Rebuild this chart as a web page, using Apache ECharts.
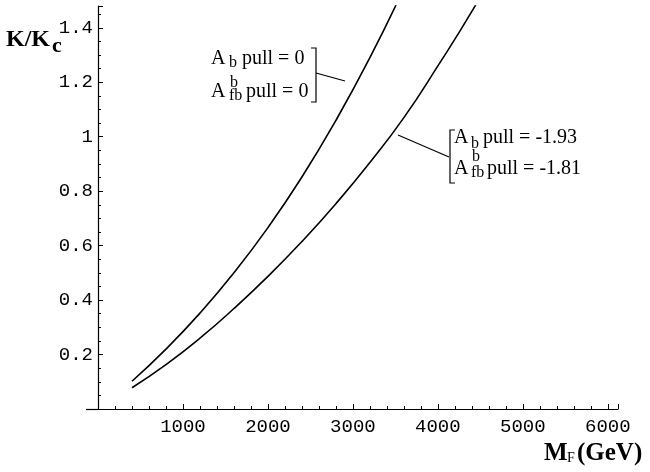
<!DOCTYPE html>
<html>
<head>
<meta charset="utf-8">
<script src="https://cdn.jsdelivr.net/npm/echarts@6/dist/echarts.min.js"></script>
<style>
  html, body { margin: 0; padding: 0; background: #fff; }
  #chart { width: 650px; height: 472px; }
</style>
</head>
<body>
<div id="chart"></div>
<script>
// values: M_F in GeV, K/Kc
const massUpper = [400, 800, 1200, 1600, 2000, 2400, 2800, 3200, 3600];
const ratioUpper = [0.102, 0.22, 0.352, 0.50, 0.666, 0.852, 1.06, 1.29, 1.545];

const massLower = [400, 800, 1200, 1600, 2000, 2400, 2800, 3200, 3600, 4000, 4400, 4800];
const ratioLower = [0.078, 0.163, 0.26, 0.369, 0.487, 0.615, 0.754, 0.905, 1.07, 1.26, 1.46, 1.68];

const xTicks = [1000, 2000, 3000, 4000, 5000, 6000];
const yTicks = [0.2, 0.4, 0.6, 0.8, 1, 1.2, 1.4];

const serif = '"Liberation Serif", "Times New Roman", serif';
const mono = '"Liberation Mono", "Courier New", monospace';

const zip = (xs, ys) => xs.map((x, i) => [x, ys[i]]);

// small helper for the stacked super/subscript labels
function txt(x, y, text, size, weight) {
  return {
    type: 'text', x: x, y: y, silent: true,
    style: {
      text: text, fill: '#000',
      font: (weight || 'normal') + ' ' + size + 'px ' + serif,
      align: 'left', verticalAlign: 'middle'
    }
  };
}
function seg(points) {
  return { type: 'polyline', silent: true, shape: { points: points },
    style: { stroke: '#000', lineWidth: 1.2, fill: null } };
}

const chart = echarts.init(document.getElementById('chart'));

const option = {
  animation: false,
  backgroundColor: '#fff',
  grid: { left: 98, right: 32, top: 6, bottom: 63, containLabel: false },
  xAxis: {
    type: 'value', min: 0, max: 6120, interval: 1000,
    axisLine: { show: true, onZero: false, lineStyle: { color: '#000', width: 1.2 } },
    axisTick: { show: true, inside: true, length: 5, lineStyle: { color: '#000' } },
    minorTick: { show: true, splitNumber: 5, length: 3, lineStyle: { color: '#000' } },
    splitLine: { show: false },
    axisLabel: {
      show: true, margin: 8, color: '#000', fontFamily: mono, fontSize: 19,
      showMinLabel: false, showMaxLabel: false,
      formatter: v => xTicks.includes(v) ? String(v) : ''
    }
  },
  yAxis: {
    type: 'value', min: 0, max: 1.48, interval: 0.2,
    axisLine: { show: true, onZero: false, lineStyle: { color: '#000', width: 1.2 } },
    axisTick: { show: true, inside: true, length: 5, lineStyle: { color: '#000' } },
    minorTick: { show: true, splitNumber: 4, length: 3, lineStyle: { color: '#000' } },
    splitLine: { show: false },
    axisLabel: {
      show: true, margin: 5, color: '#000', fontFamily: mono, fontSize: 19,
      showMinLabel: false, showMaxLabel: false,
      formatter: v => {
        const r = Math.round(v * 10) / 10;
        return yTicks.includes(r) ? String(r) : '';
      }
    }
  },
  series: [
    {
      name: 'pull 0', type: 'line', smooth: true, showSymbol: false,
      lineStyle: { color: '#000', width: 1.6 },
      data: zip(massUpper, ratioUpper)
    },
    {
      name: 'pull fit', type: 'line', smooth: true, showSymbol: false,
      lineStyle: { color: '#000', width: 1.6 },
      data: zip(massLower, ratioLower)
    }
  ],
  graphic: [
    // axis names
    txt(6, 40, 'K/K', 24, 'bold'),
    txt(52, 46, 'c', 22, 'bold'),
    txt(544, 454, 'M', 25, 'bold'),
    txt(567, 458, 'F', 14),
    txt(577, 454, '(GeV)', 25, 'bold'),

    // upper curve label
    txt(211, 59, 'A', 20), txt(229, 63, 'b', 16), txt(242, 59, 'pull = 0', 20),
    txt(211, 92, 'A', 20), txt(230, 83, 'b', 16), txt(229, 96, 'fb', 16), txt(246, 92, 'pull = 0', 20),
    seg([[311, 48], [316, 48], [316, 102], [311, 102]]),
    seg([[316, 73], [345, 81]]),

    // lower curve label
    seg([[455, 130], [450, 130], [450, 183], [455, 183]]),
    seg([[398, 135], [449, 157]]),
    txt(454, 138, 'A', 20), txt(471, 144, 'b', 16), txt(483, 138, 'pull = -1.93', 20),
    txt(454, 169, 'A', 20), txt(472, 157, 'b', 16), txt(471, 173, 'fb', 16), txt(487, 169, 'pull = -1.81', 20),

    // short stub of x axis left of the y axis
    seg([[86, 409.5], [98, 409.5]])
  ]
};

chart.setOption(option);
</script>
</body>
</html>
